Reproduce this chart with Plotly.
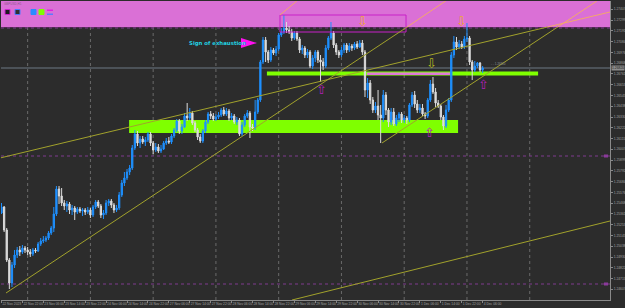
import plotly.graph_objects as go

# ---------------- data ----------------
first_open = 1.2537
close = [1.2543,1.2520,1.2490,1.2467,1.2485,1.2495,1.2500,1.2498,1.2502,1.2500,
         1.2498,1.2496,1.2500,1.2499,1.2506,1.2509,1.2510,1.2512,1.2517,1.2522,
         1.2536,1.2561,1.2554,1.2547,1.2544,1.2546,1.2540,1.2542,1.2538,1.2541,
         1.2539,1.2540,1.2538,1.2540,1.2535,1.2543,1.2548,1.2544,1.2535,1.2537,
         1.2547,1.2549,1.2545,1.2540,1.2542,1.2555,1.2567,1.2572,1.2578,1.2582,
         1.2602,1.2616,1.2607,1.2611,1.2608,1.2610,1.2616,1.2607,1.2600,1.2603,
         1.2599,1.2601,1.2607,1.2609,1.2608,1.2614,1.2620,1.2629,1.2619,1.2623,
         1.2634,1.2632,1.2637,1.2627,1.2620,1.2613,1.2609,1.2619,1.2628,1.2636,
         1.2634,1.2631,1.2633,1.2635,1.2640,1.2636,1.2639,1.2632,1.2634,1.2628,
         1.2630,1.2616,1.2625,1.2634,1.2637,1.2623,1.2622,1.2638,1.2650,1.2688,
         1.2710,1.2698,1.2690,1.2700,1.2697,1.2701,1.2715,1.2718,1.2722,1.2720,
         1.2718,1.2712,1.2717,1.2711,1.2700,1.2702,1.2695,1.2698,1.2684,1.2692,
         1.2698,1.2690,1.2688,1.2684,1.2702,1.2712,1.2717,1.2705,1.2698,1.2695,
         1.2700,1.2705,1.2700,1.2704,1.2702,1.2706,1.2703,1.2707,1.2698,1.2660,
         1.2667,1.2650,1.2640,1.2644,1.2635,1.2632,1.2655,1.2640,1.2628,1.2638,
         1.2626,1.2632,1.2636,1.2630,1.2632,1.2630,1.2645,1.2655,1.2646,1.2640,
         1.2642,1.2636,1.2634,1.2650,1.2666,1.2658,1.2647,1.2644,1.2633,1.2624,
         1.2640,1.2650,1.2695,1.2708,1.2703,1.2706,1.2703,1.2711,1.2712,1.2688,
         1.2680,1.2684,1.2687,1.2680,1.2682]
high = [1.2547,1.2544,1.2522,1.2492,1.2488,1.2500,1.2503,1.2504,1.2505,1.2504,
        1.2503,1.2501,1.2502,1.2502,1.2508,1.2512,1.2514,1.2514,1.2519,1.2524,
        1.2543,1.2564,1.2564,1.2562,1.2550,1.2549,1.2548,1.2545,1.2544,1.2543,
        1.2543,1.2542,1.2542,1.2543,1.2542,1.2545,1.2550,1.2550,1.2546,1.2540,
        1.2550,1.2551,1.2551,1.2547,1.2545,1.2558,1.2570,1.2578,1.2581,1.2585,
        1.2605,1.2620,1.2619,1.2614,1.2614,1.2613,1.2618,1.2618,1.2609,1.2607,
        1.2606,1.2605,1.2609,1.2612,1.2613,1.2616,1.2622,1.2631,1.2631,1.2626,
        1.2637,1.2647,1.2642,1.2639,1.2629,1.2622,1.2616,1.2621,1.2630,1.2638,
        1.2639,1.2637,1.2636,1.2638,1.2642,1.2643,1.2642,1.2641,1.2637,1.2636,
        1.2633,1.2632,1.2628,1.2636,1.2640,1.2639,1.2626,1.2650,1.2652,1.2690,
        1.2713,1.2713,1.2700,1.2703,1.2702,1.2704,1.2717,1.2722,1.2735,1.2728,
        1.2724,1.2721,1.2719,1.2719,1.2713,1.2705,1.2704,1.2701,1.2700,1.2695,
        1.2700,1.2700,1.2695,1.2692,1.2705,1.2714,1.2728,1.2719,1.2707,1.2700,
        1.2703,1.2707,1.2707,1.2707,1.2706,1.2708,1.2709,1.2710,1.2710,1.2700,
        1.2672,1.2670,1.2653,1.2648,1.2660,1.2645,1.2660,1.2658,1.2642,1.2642,
        1.2642,1.2635,1.2638,1.2638,1.2635,1.2634,1.2647,1.2658,1.2659,1.2650,
        1.2646,1.2646,1.2638,1.2652,1.2670,1.2673,1.2662,1.2650,1.2646,1.2635,
        1.2645,1.2652,1.2698,1.2714,1.2713,1.2710,1.2709,1.2714,1.2727,1.2714,
        1.2690,1.2689,1.2688,1.2688,1.2684]
low = [1.2536,1.2518,1.2488,1.2461,1.2463,1.2482,1.2492,1.2494,1.2496,1.2497,
       1.2495,1.2493,1.2494,1.2497,1.2498,1.2504,1.2507,1.2508,1.2510,1.2515,
       1.2518,1.2534,1.2546,1.2544,1.2540,1.2538,1.2536,1.2535,1.2530,1.2536,
       1.2537,1.2534,1.2535,1.2536,1.2532,1.2533,1.2541,1.2542,1.2532,1.2531,
       1.2535,1.2544,1.2542,1.2537,1.2538,1.2540,1.2553,1.2564,1.2570,1.2575,
       1.2580,1.2600,1.2604,1.2602,1.2606,1.2604,1.2608,1.2604,1.2596,1.2598,
       1.2597,1.2597,1.2600,1.2605,1.2606,1.2606,1.2612,1.2618,1.2616,1.2616,
       1.2622,1.2629,1.2630,1.2625,1.2618,1.2610,1.2607,1.2607,1.2617,1.2626,
       1.2631,1.2629,1.2629,1.2631,1.2633,1.2634,1.2634,1.2629,1.2630,1.2626,
       1.2625,1.2614,1.2614,1.2623,1.2632,1.2612,1.2619,1.2620,1.2636,1.2648,
       1.2686,1.2688,1.2687,1.2688,1.2695,1.2694,1.2699,1.2713,1.2716,1.2717,
       1.2716,1.2709,1.2710,1.2709,1.2697,1.2696,1.2692,1.2692,1.2682,1.2681,
       1.2688,1.2687,1.2668,1.2680,1.2682,1.2700,1.2710,1.2702,1.2695,1.2692,
       1.2693,1.2697,1.2697,1.2698,1.2699,1.2700,1.2701,1.2702,1.2695,1.2653,
       1.2652,1.2646,1.2637,1.2637,1.2630,1.2607,1.2628,1.2635,1.2623,1.2625,
       1.2624,1.2624,1.2628,1.2627,1.2627,1.2626,1.2628,1.2643,1.2642,1.2637,
       1.2637,1.2634,1.2631,1.2632,1.2648,1.2656,1.2643,1.2642,1.2630,1.2620,
       1.2622,1.2638,1.2648,1.2692,1.2700,1.2701,1.2701,1.2701,1.2708,1.2685,
       1.2670,1.2678,1.2682,1.2678,1.2677]

time_labels = ["22 Nov 2023", "22 Nov 22:00", "23 Nov 06:00", "23 Nov 14:00",
               "23 Nov 22:00", "24 Nov 06:00", "24 Nov 14:00", "24 Nov 22:00",
               "27 Nov 06:00", "27 Nov 14:00", "27 Nov 22:00", "28 Nov 06:00",
               "28 Nov 14:00", "28 Nov 22:00", "29 Nov 06:00", "29 Nov 14:00",
               "29 Nov 22:00", "30 Nov 06:00", "30 Nov 14:00", "30 Nov 22:00",
               "1 Dec 06:00", "1 Dec 14:00", "1 Dec 22:00", "4 Dec 06:00"]
time_label_bars = list(range(0, 185, 8))
day_start_bars = [10, 34, 58, 82, 106, 130, 154, 178, 202]

price_labels = ["1.27407", "1.27299", "1.27191", "1.27084", "1.26976", "1.26868",
                "1.26761", "1.26653", "1.26545", "1.26438", "1.26330", "1.26222",
                "1.26115", "1.26007", "1.25899", "1.25792", "1.25684", "1.25576",
                "1.25468", "1.25361", "1.25253", "1.25145", "1.25038", "1.24930",
                "1.24822", "1.24715", "1.24607"]
current_price = 1.2682
level_lines = [1.2722, 1.2594, 1.2466]

# zones (bar index span, price span)
supply_zone = (-1, 240, 1.2723, 1.2752)
green_zone = (48.8, 174.6, 1.2617, 1.2630)
green_line_zone = (101.5, 205.2, 1.26745, 1.26785)
pink_line_zone = (139.8, 171.5, 1.26750, 1.26775)
box_zone = (106.5, 154.7, 1.2718, 1.2735)

# trend lines: (bar0, price0, bar_split, price_split, bar1, price1)
trend_lines = [
    (1.72, 1.2457, 155.1, 1.2723, 170.4, 1.2750),
    (145.5, 1.2607, 212.7, 1.2723, 227.7, 1.2749),
    (-0.57, 1.2592, 208.8, 1.2723, 232.7, 1.2738),
]
bottom_line = (111.1, 1.2450, 232.7, 1.2529)
extra_segment = (106.5, 1.2735, 113.4, 1.2750)

# arrows (bar, price, glyph, color)
arrows = [
    (138.2, 1.2729, "\u21e9", "#f0a832"),
    (176.1, 1.2729, "\u21e9", "#f0a832"),
    (164.6, 1.2687, "\u21e9", "#b4b41e"),
    (122.2, 1.2661, "\u21e7", "#b020b8"),
    (184.5, 1.2666, "\u21e7", "#b020b8"),
    (163.5, 1.2618, "\u21e7", "#b020b8"),
]

# ---------------- figure ----------------
W, H = 625, 308
ML, MR, MT, MB = 1, 15, 1, 8
X_RANGE = [-0.19, 232.7]
Y_RANGE = [1.2450, 1.2749]
BG = "#2c2c2c"
OLIVE = "#a2a22c"
PEACH = "#f2a86a"


def bx(px):
    return (px - 1.5) / 2.615


def py_(py):
    return 1.2750 - py / 10000.0


bars = list(range(len(close)))
opens = [first_open] + close[:-1]

fig = go.Figure()
fig.add_trace(go.Candlestick(
    x=bars, open=opens, high=high, low=low, close=close,
    increasing=dict(line=dict(color="#1e90ff", width=1), fillcolor="#1e90ff"),
    decreasing=dict(line=dict(color="#dcdcdc", width=1), fillcolor="#dcdcdc"),
    whiskerwidth=0, showlegend=False, hoverinfo="skip"))

shapes = []
x0, x1, y0, y1 = supply_zone
shapes.append(dict(type="rect", xref="x", yref="y", x0=x0, x1=x1, y0=y0, y1=y1,
                   fillcolor="#da70d6", line=dict(width=0), layer="below"))
shapes.append(dict(type="line", xref="paper", yref="y", x0=0, x1=1, y0=1.27227, y1=1.27227,
                   line=dict(color="#5b2a5c", width=1), layer="below"))
for b in day_start_bars:
    shapes.append(dict(type="line", xref="x", yref="paper", x0=b, x1=b, y0=0, y1=1,
                       line=dict(color="#6a6a6a", width=1, dash="dot"), layer="below"))
for lv in level_lines:
    shapes.append(dict(type="line", xref="paper", yref="y", x0=0, x1=1, y0=lv, y1=lv,
                       line=dict(color="#7e3a8e", width=1, dash="dot"), layer="below"))
for zone, col in [(green_zone, "#7fff00"), (green_line_zone, "#7fff00"), (pink_line_zone, "#e07ad8")]:
    x0, x1, y0, y1 = zone
    shapes.append(dict(type="rect", xref="x", yref="y", x0=x0, x1=x1, y0=y0, y1=y1,
                       fillcolor=col, line=dict(width=0), layer="below"))
shapes.append(dict(type="line", xref="paper", yref="y", x0=0, x1=1, y0=current_price, y1=current_price,
                   line=dict(color="#6c7884", width=1), layer="below"))
x0, x1, y0, y1 = box_zone
shapes.append(dict(type="rect", xref="x", yref="y", x0=x0, x1=x1, y0=y0, y1=y1,
                   fillcolor="rgba(0,0,0,0)", line=dict(color="#c820c8", width=1)))
for (a0, p0, as_, ps, a1, p1) in trend_lines:
    shapes.append(dict(type="line", xref="x", yref="y", x0=a0, y0=p0, x1=as_, y1=ps,
                       line=dict(color=OLIVE, width=1)))
    shapes.append(dict(type="line", xref="x", yref="y", x0=as_, y0=ps, x1=a1, y1=p1,
                       line=dict(color=PEACH, width=1)))
a0, p0, a1, p1 = bottom_line
shapes.append(dict(type="line", xref="x", yref="y", x0=a0, y0=p0, x1=a1, y1=p1,
                   line=dict(color=OLIVE, width=1)))
a0, p0, a1, p1 = extra_segment
shapes.append(dict(type="line", xref="x", yref="y", x0=a0, y0=p0, x1=a1, y1=p1,
                   line=dict(color=PEACH, width=1)))
shapes.append(dict(type="path", xref="x", yref="y",
                   path=f"M {bx(241)},{py_(38)} L {bx(241)},{py_(48)} L {bx(257)},{py_(43)} Z",
                   fillcolor="#ff10f0", line=dict(width=0)))
for lv in level_lines[1:]:
    shapes.append(dict(type="rect", xref="x", yref="y", x0=bx(604), x1=bx(608),
                       y0=lv - 0.00015, y1=lv + 0.00015, fillcolor="#8a3a9a", line=dict(width=0)))
icons = [(5, 10, "#1c1c1c", "#d020d0"), (15, 20, "#303030", "#4a78ff"),
         (31, 36, "#2a8cff", "#2a8cff"), (39, 44, "#7fff00", "#7fff00")]
for xa, xb, fc, lc in icons:
    shapes.append(dict(type="rect", xref="x", yref="y", x0=bx(xa), x1=bx(xb),
                       y0=py_(14.5), y1=py_(9.5), fillcolor=fc, line=dict(color=lc, width=1)))
shapes.append(dict(type="rect", xref="x", yref="y", x0=bx(47), x1=bx(53), y0=py_(11), y1=py_(9.5),
                   fillcolor="#e020e0", line=dict(width=0)))
shapes.append(dict(type="rect", xref="x", yref="y", x0=bx(47), x1=bx(53), y0=py_(15), y1=py_(13.5),
                   fillcolor="#5a7aff", line=dict(width=0)))

annotations = []
for b, p, g, c in arrows:
    annotations.append(dict(x=b, y=p, xref="x", yref="y", text=g, showarrow=False,
                            font=dict(family="DejaVu Sans", size=13, color=c)))
annotations.append(dict(x=bx(187), y=py_(43), xref="x", yref="y", text="<b>Sign of exhaustion</b>",
                        showarrow=False, xanchor="left",
                        font=dict(family="DejaVu Sans", size=5.4, color="#22cfe0")))
annotations.append(dict(x=1, y=current_price, xref="paper", yref="y", text="1.26820",
                        showarrow=False, xanchor="left", xshift=1, bgcolor="#8c8c8c",
                        borderpad=0, font=dict(family="Liberation Sans", size=3.4, color="#202020")))
annotations.append(dict(x=bx(489), y=py_(64), xref="x", yref="y", text="- - 1.26820",
                        showarrow=False, xanchor="left",
                        font=dict(family="Liberation Sans", size=3, color="#909090")))
annotations.append(dict(x=bx(2), y=py_(3.5), xref="x", yref="y", text="GBPUSD,H1",
                        showarrow=False, xanchor="left",
                        font=dict(family="Liberation Sans", size=3, color="#8a5a8a")))

fig.update_layout(
    width=W, height=H, margin=dict(l=ML, r=MR, t=MT, b=MB, autoexpand=False),
    paper_bgcolor=BG, plot_bgcolor=BG, showlegend=False,
    shapes=shapes, annotations=annotations,
    xaxis=dict(range=X_RANGE, tickvals=time_label_bars, ticktext=time_labels, tickangle=0,
               automargin=False,
               ticklabelposition="outside right", ticks="outside", ticklen=2,
               tickcolor="#888888", tickfont=dict(family="Liberation Sans", size=3.3, color="#a0a0a0"),
               showgrid=False, zeroline=False, showline=True, linecolor="#8a8a8a",
               rangeslider=dict(visible=False), fixedrange=True),
    yaxis=dict(range=Y_RANGE, side="right", tickvals=[float(s) for s in price_labels],
               automargin=False,
               ticktext=price_labels, ticks="outside", ticklen=2, tickcolor="#888888",
               tickfont=dict(family="Liberation Sans", size=3.3, color="#a0a0a0"),
               showgrid=False, zeroline=False, showline=True, linecolor="#8a8a8a",
               fixedrange=True),
)

fig.write_html("out.html")
